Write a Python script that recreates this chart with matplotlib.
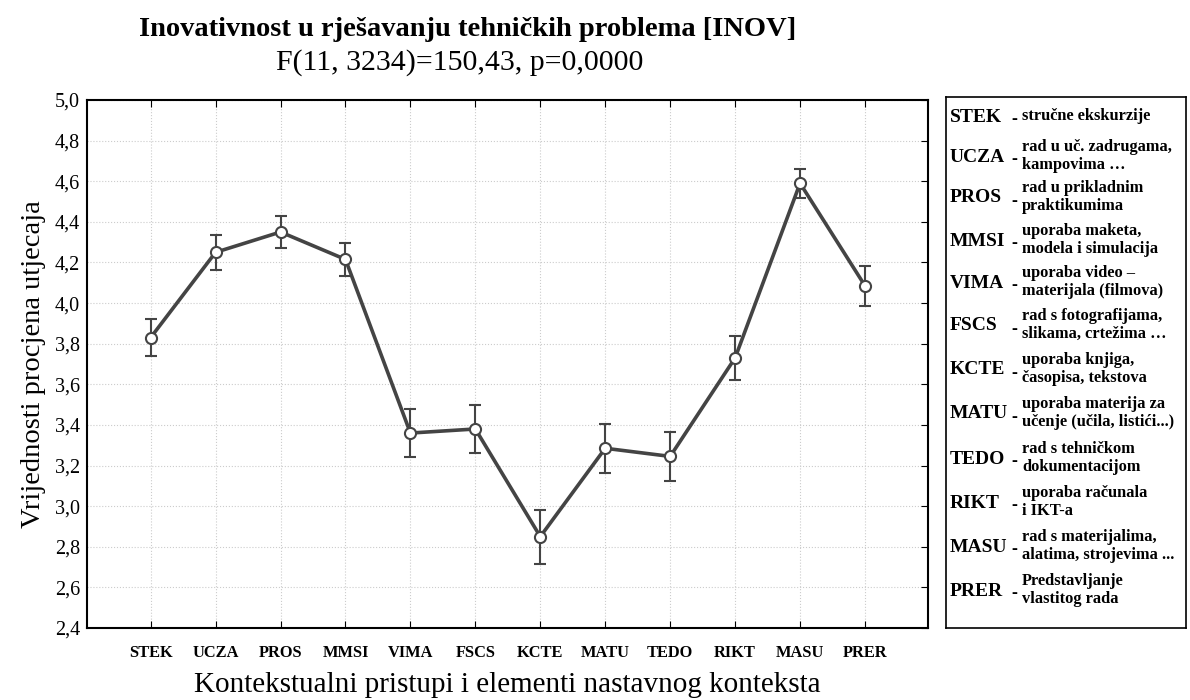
import matplotlib.pyplot as plt

plt.rcParams['font.family'] = 'Liberation Serif'

codes = ["STEK", "UCZA", "PROS", "MMSI", "VIMA", "FSCS",
         "KCTE", "MATU", "TEDO", "RIKT", "MASU", "PRER"]
means = [3.83, 4.25, 4.35, 4.215, 3.36, 3.38, 2.85, 3.285, 3.245, 3.73, 4.59, 4.085]
errs = [0.092, 0.087, 0.079, 0.082, 0.12, 0.12, 0.133, 0.122, 0.12, 0.11, 0.072, 0.099]
descriptions = [
    "stručne ekskurzije",
    "rad u uč. zadrugama,\nkampovima …",
    "rad u prikladnim\npraktikumima",
    "uporaba maketa,\nmodela i simulacija",
    "uporaba video –\nmaterijala (filmova)",
    "rad s fotografijama,\nslikama, crtežima …",
    "uporaba knjiga,\nčasopisa, tekstova",
    "uporaba materija za\nučenje (učila, listići...)",
    "rad s tehničkom\ndokumentacijom",
    "uporaba računala\ni IKT-a",
    "rad s materijalima,\nalatima, strojevima ...",
    "Predstavljanje\nvlastitog rada",
]
yticks = [2.4, 2.6, 2.8, 3.0, 3.2, 3.4, 3.6, 3.8, 4.0, 4.2, 4.4, 4.6, 4.8, 5.0]

fig = plt.figure(figsize=(11.9, 7.0), dpi=100)
ax = fig.add_axes([87/1190, 1 - 628/700, (928 - 87)/1190, (628 - 100)/700])

x = list(range(len(codes)))
ax.errorbar(x, means, yerr=errs, color='#444444', lw=2.6, capsize=4,
            elinewidth=1.5, capthick=1.5, marker='o', markersize=8,
            markerfacecolor='white', markeredgecolor='#444444',
            markeredgewidth=1.5, zorder=3)

ax.set_xlim(-0.98, 11.97)
ax.set_ylim(2.4, 5.0)
ax.set_yticks(yticks)
ax.set_yticklabels([f"{v:.1f}".replace('.', ',') for v in yticks], fontsize=14.5)
ax.set_xticks(x)
ax.set_xticklabels(codes, fontsize=11.8, fontweight='bold')
ax.tick_params(axis='x', direction='in', top=True, bottom=True, length=5, pad=12)
ax.tick_params(axis='y', direction='in', left=False, right=True, length=5, pad=5)
ax.grid(True, color='#cccccc', linestyle=':', linewidth=0.8)
for s in ax.spines.values():
    s.set_linewidth(1.5)

ax.set_ylabel("Vrijednosti procjena utjecaja", fontsize=20.5, labelpad=6)
ax.set_xlabel("Kontekstualni pristupi i elementi nastavnog konteksta",
              fontsize=21, labelpad=8)

fig.text(468/1190, 1 - 29/700, "Inovativnost u rješavanju tehničkih problema [INOV]",
         ha='center', va='center', fontsize=20.5, fontweight='bold')
fig.text(460/1190, 1 - 63/700, "F(11, 3234)=150,43, p=0,0000",
         ha='center', va='center', fontsize=21.5)

# legend box with code explanations
lax = fig.add_axes([946/1190, 1 - 628/700, (1186 - 946)/1190, (628 - 97)/700])
lax.set_xlim(946, 1186)
lax.set_ylim(628, 97)
lax.set_xticks([])
lax.set_yticks([])
for s in lax.spines.values():
    s.set_linewidth(1.2)
rows = [117, 157, 198, 241, 283, 326, 370, 414, 459, 503, 547, 591]
for code, desc, yy in zip(codes, descriptions, rows):
    lax.text(950, yy, code, ha='left', va='center', fontsize=14,
             fontweight='bold')
    lax.text(1014, yy + 3, "-", ha='center', va='center', fontsize=13,
             fontweight='bold')
    lax.text(1022, yy - 1, desc, ha='left', va='center', fontsize=11.8,
             fontweight='bold', linespacing=1.1)

fig.savefig("out.png", dpi=100)
